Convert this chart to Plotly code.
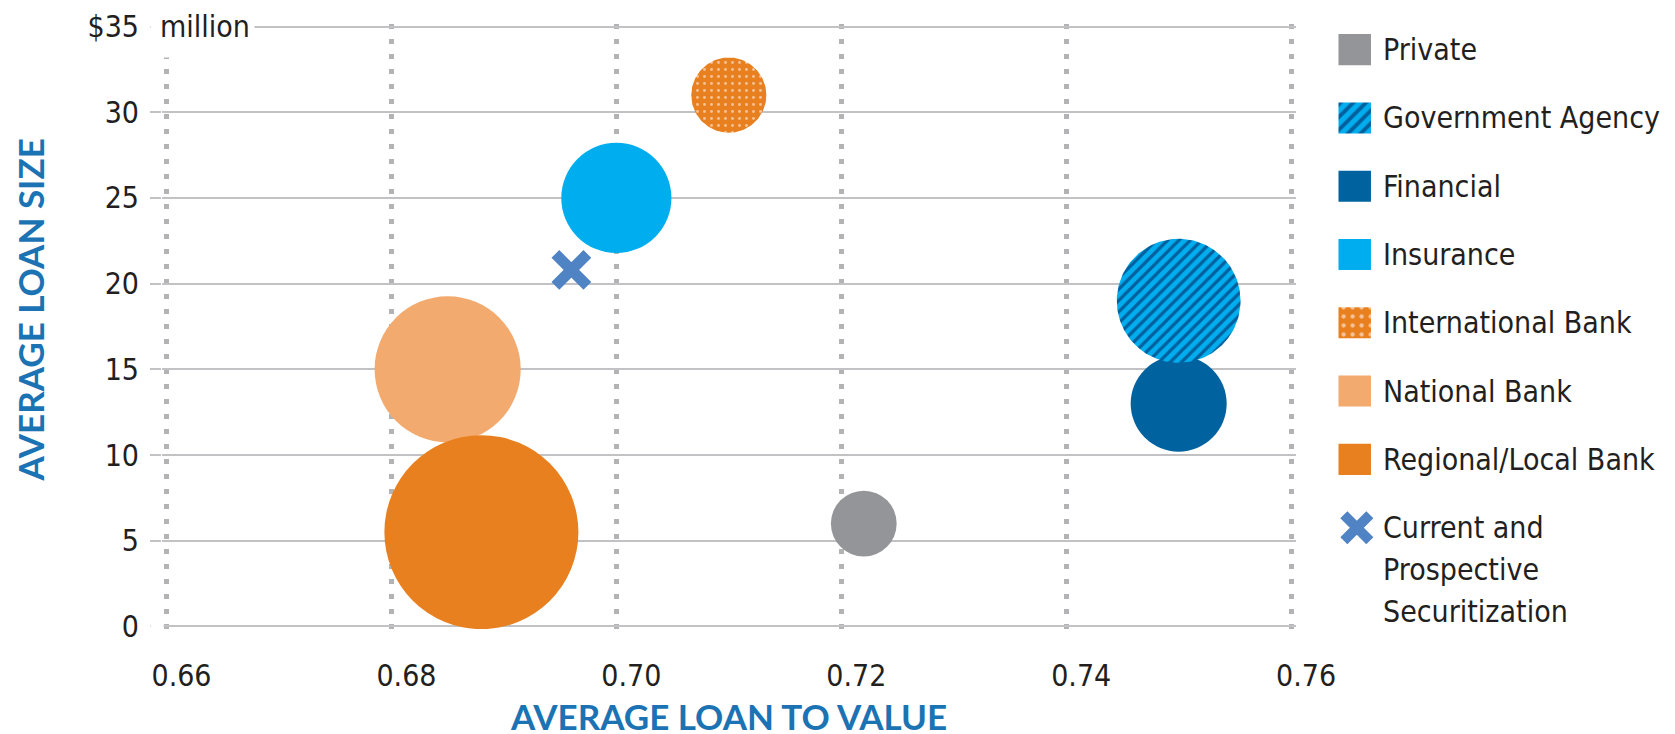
import numpy as np
import plotly.graph_objects as go

# ---------------- data ----------------
lenders = ["Private", "Government Agency", "Financial", "Insurance",
           "International Bank", "National Bank", "Regional/Local Bank"]
avg_loan_to_value = [0.722, 0.750, 0.750, 0.700, 0.710, 0.685, 0.688]
avg_loan_size = [6.0, 19.0, 13.0, 25.0, 31.0, 15.0, 5.5]          # $ million
bubble_value = [4.6, 16.3, 9.8, 12.9, 6.0, 22.7, 40.0]            # relative bubble area

securitization_name = ["Current and", "Prospective", "Securitization"]
securitization_ltv = [0.696]
securitization_size = [20.8]

x_tick_vals = [0.66, 0.68, 0.70, 0.72, 0.74, 0.76]
x_tick_text = ["0.66", "0.68", "0.70", "0.72", "0.74", "0.76"]
y_tick_vals = [0, 5, 10, 15, 20, 25, 30, 35]
y_tick_text = ["0", "5", "10", "15", "20", "25", "30", "$35"]

# ---------------- styles ----------------
colors = {
    "Private": "#939598",
    "Government Agency": "#00aeef",
    "Financial": "#00639f",
    "Insurance": "#00aeef",
    "International Bank": "#e8801f",
    "National Bank": "#f2aa6e",
    "Regional/Local Bank": "#e8801f",
}
patterns = {
    "Government Agency": dict(shape="/", fgcolor="#00609e", bgcolor="#00aeef", size=8, solidity=0.4),
    "International Bank": dict(shape=".", fgcolor="#f5c195", bgcolor="#e8801f", size=7, solidity=0.14),
}
draw_order = ["Private", "Financial", "Government Agency", "Insurance",
              "International Bank", "National Bank", "Regional/Local Bank"]
X_COLOR = "#4f83c3"
TITLE_COLOR = "#1c73b4"
TEXT_COLOR = "#231f20"
GRID_COLOR = "#c2c2c4"
DOT_COLOR = "#b3b3b5"
FONT = "DejaVu Sans Condensed, Liberation Sans Narrow, sans-serif"
TITLE_FONT = "Lato, Open Sans, sans-serif"
TICK_SIZE = 30
LEG_SIZE = 30
TITLE_SIZE = 35

# ---------------- layout geometry (target pixel positions) ----------------
W, H = 1675, 734
OFF = 8                      # page body offset
X_LO, X_HI = 0.66, 0.76
Y_LO, Y_HI = 0, 35
X0_PX, X1_PX = 166, 1291     # where X_LO / X_HI land
Y0_PX, Y1_PX = 626, 27       # where Y_LO / Y_HI land
XPAD, YPAD = 0.0004, 0.15
px_per_x = (X1_PX - X0_PX) / (X_HI - X_LO)
px_per_y = (Y0_PX - Y1_PX) / (Y_HI - Y_LO)
X_RANGE = [X_LO - XPAD, X_HI + XPAD]
Y_RANGE = [Y_LO - YPAD, Y_HI + YPAD]
plot_left = X0_PX - XPAD * px_per_x
plot_right = X1_PX + XPAD * px_per_x
plot_top = Y1_PX - YPAD * px_per_y
plot_bot = Y0_PX + YPAD * px_per_y
ML = plot_left - OFF
MT = plot_top - OFF
MR = 2
MB = H - (plot_bot - OFF)
PW = W - ML - MR
PH = H - MT - MB


def paper_x(px):
    return (px - plot_left) / PW


def paper_y(py):
    return (plot_bot - py) / PH


MAX_RADIUS_PX = 97
SIZEREF = max(bubble_value) / (2 * MAX_RADIUS_PX ** 2)

fig = go.Figure()

for name in draw_order:
    i = lenders.index(name)
    cx, cy, v = avg_loan_to_value[i], avg_loan_size[i], bubble_value[i]
    if name in patterns:
        r_px = np.sqrt(v / (2 * SIZEREF))
        t = np.linspace(0, 2 * np.pi, 181)
        xs = cx + r_px / px_per_x * np.cos(t)
        ys = cy + r_px / px_per_y * np.sin(t)
        fig.add_trace(go.Scatter(
            x=xs, y=ys, mode="lines", fill="toself",
            fillcolor=colors[name], fillpattern=patterns[name],
            line=dict(width=0, color=colors[name]),
            showlegend=False, name=name, hoverinfo="skip"))
    else:
        fig.add_trace(go.Scatter(
            x=[cx], y=[cy], mode="markers", name=name, showlegend=False,
            marker=dict(size=[v], sizemode="area", sizeref=SIZEREF,
                        color=colors[name], line=dict(width=0), opacity=1)))

fig.add_trace(go.Scatter(
    x=securitization_ltv, y=securitization_size, mode="markers",
    showlegend=False, name=" ".join(securitization_name),
    marker=dict(symbol="x-thin", size=32, line=dict(width=11, color=X_COLOR))))

# ---------------- custom legend (right side axes) ----------------
LEG_X0 = 1330
ITEM_PX = 68.2
FIRST_ITEM_PX = 50
SW = 31
SW_X0 = 8
TEXT_X = 49
LINE_PX = 42
leg_range_top = (plot_top - FIRST_ITEM_PX) / ITEM_PX
leg_range_bot = (plot_bot - FIRST_ITEM_PX) / ITEM_PX
n = len(lenders)

for i, l in enumerate(lenders):
    pat = patterns.get(l)
    marker = dict(color=colors[l], line=dict(width=0))
    if pat:
        marker["pattern"] = dict(shape=pat["shape"], fgcolor=pat["fgcolor"],
                                 bgcolor=pat["bgcolor"], size=9,
                                 solidity=pat["solidity"] + 0.04, fillmode="replace")
    fig.add_trace(go.Bar(
        orientation="h", y=[i], x=[SW], base=[SW_X0], width=SW / ITEM_PX,
        xaxis="x2", yaxis="y2", showlegend=False, hoverinfo="skip", name=l,
        marker=marker))
fig.add_trace(go.Scatter(
    x=[SW_X0 + SW / 2 + 2], y=[n], mode="markers", xaxis="x2", yaxis="y2",
    showlegend=False, hoverinfo="skip",
    marker=dict(symbol="x-thin", size=26, line=dict(width=10, color=X_COLOR))))

annotations = []
for i, l in enumerate(lenders):
    annotations.append(dict(xref="x2", yref="y2", x=TEXT_X, y=i, text=l,
                            xanchor="left", yanchor="middle", showarrow=False,
                            font=dict(family=FONT, size=LEG_SIZE, color=TEXT_COLOR)))
for k, line in enumerate(securitization_name):
    annotations.append(dict(xref="x2", yref="y2", x=TEXT_X, y=n + k * LINE_PX / ITEM_PX,
                            text=line, xanchor="left", yanchor="middle", showarrow=False,
                            font=dict(family=FONT, size=LEG_SIZE, color=TEXT_COLOR)))

annotations.append(dict(xref="paper", yref="paper", x=paper_x(157), y=paper_y(Y1_PX),
                        text="million", xanchor="left", yanchor="middle", showarrow=False,
                        font=dict(family=FONT, size=TICK_SIZE, color=TEXT_COLOR)))
annotations.append(dict(xref="paper", yref="paper", x=paper_x(728), y=paper_y(715),
                        text="<b>AVERAGE LOAN TO VALUE</b>", xanchor="center", yanchor="middle",
                        showarrow=False,
                        font=dict(family=TITLE_FONT, size=TITLE_SIZE, color=TITLE_COLOR)))
annotations.append(dict(xref="paper", yref="paper", x=paper_x(29), y=paper_y(310),
                        text="<b>AVERAGE LOAN SIZE</b>", textangle=-90, xanchor="center",
                        yanchor="middle", showarrow=False,
                        font=dict(family=TITLE_FONT, size=TITLE_SIZE, color=TITLE_COLOR)))

# white masks: gridline/tick behind "million", and the tick stub at 0
shapes = [
    dict(type="rect", layer="above", xref="paper", yref="paper",
         x0=paper_x(150), x1=paper_x(254), y0=paper_y(58), y1=paper_y(10),
         fillcolor="white", line=dict(width=0)),
    dict(type="rect", layer="above", xref="paper", yref="paper",
         x0=paper_x(150), x1=paper_x(X0_PX - 3), y0=paper_y(Y0_PX + 3), y1=paper_y(Y0_PX - 3),
         fillcolor="white", line=dict(width=0)),
]

fig.update_layout(
    template="none",
    width=W, height=H, autosize=False,
    margin=dict(l=ML, r=MR, t=MT, b=MB, pad=0, autoexpand=False),
    paper_bgcolor="white", plot_bgcolor="white",
    showlegend=False, barmode="overlay",
    font=dict(family=FONT, size=TICK_SIZE, color=TEXT_COLOR),
    xaxis=dict(domain=[0, paper_x(plot_right)], range=X_RANGE, tickvals=x_tick_vals,
               ticktext=x_tick_text, showgrid=True, gridcolor=DOT_COLOR, gridwidth=5,
               griddash="5px,10px", ticks="", zeroline=False, showline=False,
               ticklabelstandoff=26, ticklabelshift=15, fixedrange=True, automargin=False,
               tickfont=dict(family=FONT, size=TICK_SIZE, color=TEXT_COLOR)),
    yaxis=dict(range=Y_RANGE, tickvals=y_tick_vals, ticktext=y_tick_text,
               showgrid=True, gridcolor=GRID_COLOR, gridwidth=2, ticks="outside",
               ticklen=11, tickwidth=2, tickcolor=GRID_COLOR, zeroline=False,
               showline=False, ticklabelstandoff=5, fixedrange=True, automargin=False,
               tickfont=dict(family=FONT, size=TICK_SIZE, color=TEXT_COLOR)),
    xaxis2=dict(domain=[paper_x(LEG_X0), 1], range=[0, (W - OFF - MR) - LEG_X0], anchor="y2",
                visible=False, fixedrange=True, automargin=False),
    yaxis2=dict(domain=[0, 1], range=[leg_range_bot, leg_range_top], anchor="x2",
                visible=False, fixedrange=True, automargin=False),
    annotations=annotations,
    shapes=shapes,
)

fig.write_html("out.html")
